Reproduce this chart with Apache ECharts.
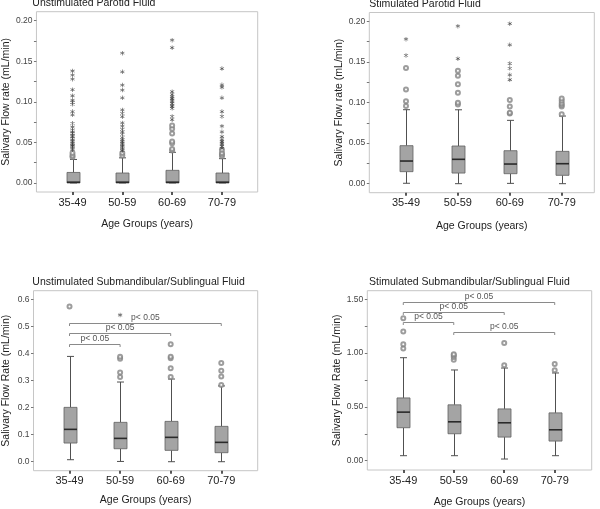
<!DOCTYPE html>
<html><head><meta charset="utf-8">
<script src="https://cdn.jsdelivr.net/npm/echarts@6/dist/echarts.min.js"></script>
<style>html,body{margin:0;padding:0;background:#fff}#c{width:600px;height:509px}</style>
</head><body><div id="c"></div>
<script>
// ---------- data ----------
const categories = ['35-49', '50-59', '60-69', '70-79'];
const panelTitles = ['Unstimulated Parotid Fluid', 'Stimulated Parotid Fluid',
  'Unstimulated Submandibular/Sublingual Fluid', 'Stimulated Submandibular/Sublingual Fluid'];
const yTitles = ['Salivary Flow rate (mL/min)', 'Salivary Flow rate (mL/min)',
  'Salivary Flow Rate (mL/min)', 'Salivary Flow Rate (mL/min)'];
const xTitle = 'Age Groups (years)';
const pLabel = 'p< 0.05';

// box = [min, Q1, median, Q3, max]
const p1Box = [[0, 0, 0.001, 0.013, 0.029], [0, 0, 0.001, 0.0123, 0.031], [0, 0, 0.001, 0.0156, 0.0378], [0, 0, 0.001, 0.0123, 0.030]];
const p1Mild = [[0.032, 0.034, 0.037], [0.034, 0.037], [0.040, 0.042, 0.049, 0.051, 0.061, 0.067, 0.071], [0.033, 0.035, 0.037, 0.041]];
const p1Extreme = [
  [0.041, 0.043, 0.045, 0.046, 0.047, 0.049, 0.051, 0.053, 0.055, 0.057, 0.059, 0.061, 0.063, 0.065, 0.069, 0.0735, 0.084, 0.088, 0.097, 0.0995, 0.102, 0.1075, 0.115, 0.128, 0.133, 0.138],
  [0.040, 0.042, 0.044, 0.045, 0.047, 0.049, 0.051, 0.053, 0.056, 0.060, 0.063, 0.066, 0.070, 0.074, 0.0817, 0.0858, 0.090, 0.105, 0.1145, 0.1207, 0.137, 0.160],
  [0.078, 0.082, 0.092, 0.094, 0.096, 0.098, 0.100, 0.102, 0.104, 0.106, 0.109, 0.1125, 0.1667, 0.176],
  [0.043, 0.045, 0.047, 0.049, 0.051, 0.053, 0.057, 0.063, 0.070, 0.082, 0.088, 0.105, 0.118, 0.121, 0.141]];
const p1Ticks = [0, 0.05, 0.10, 0.15, 0.20];
const p1TickLabels = ['0.00', '0.05', '0.10', '0.15', '0.20'];
const p1Minor = [0.025, 0.075, 0.125, 0.175];

const p2Box = [[0.0005, 0.0148, 0.0279, 0.0468, 0.0911], [0, 0.0131, 0.030, 0.0464, 0.091], [0.0004, 0.0123, 0.0242, 0.0406, 0.078], [0, 0.0103, 0.0246, 0.0398, 0.0833]];
const p2Mild = [[0.0956, 0.1014, 0.116, 0.1424], [0.0975, 0.0997, 0.112, 0.1223, 0.133, 0.139], [0.0865, 0.0875, 0.095, 0.103], [0.0854, 0.095, 0.097, 0.099, 0.102, 0.105]];
const p2Extreme = [[0.158, 0.178], [0.154, 0.194], [0.128, 0.134, 0.142, 0.148, 0.171, 0.197], []];
const p2Ticks = [0, 0.05, 0.10, 0.15, 0.20];
const p2TickLabels = ['0.00', '0.05', '0.10', '0.15', '0.20'];
const p2Minor = [0.025, 0.075, 0.125, 0.175];

const p3Box = [[0.0074, 0.069, 0.1195, 0.2008, 0.389], [0.001, 0.048, 0.0862, 0.1454, 0.2944], [0, 0.042, 0.09, 0.149, 0.3055], [0, 0.0333, 0.0715, 0.1306, 0.28]];
const p3Mild = [[0.573], [0.313, 0.330, 0.38, 0.388], [0.313, 0.345, 0.382, 0.388, 0.434], [0.283, 0.315, 0.336, 0.3647]];
const p3Extreme = [[], [0.542], [], []];
const p3Ticks = [0, 0.1, 0.2, 0.3, 0.4, 0.5, 0.6];
const p3TickLabels = ['0.0', '0.1', '0.2', '0.3', '0.4', '0.5', '0.6'];
const p3Minor = [];
const p3Brackets = [[1, 2, 0.435], [1, 3, 0.474], [1, 4, 0.5125]];

const p4Box = [[0.046, 0.306, 0.451, 0.583, 0.957], [0.046, 0.25, 0.361, 0.519, 0.843], [0.015, 0.219, 0.352, 0.481, 0.861], [0.046, 0.182, 0.287, 0.444, 0.815]];
const p4Mild = [[1.043, 1.083, 1.20, 1.324], [0.938, 0.963, 0.98, 0.99], [0.886, 1.093], [0.84, 0.898]];
const p4Extreme = [[], [], [], []];
const p4Ticks = [0, 0.5, 1.0, 1.5];
const p4TickLabels = ['0.00', '0.50', '1.00', '1.50'];
const p4Minor = [0.25, 0.75, 1.25];
const p4Brackets = [[1, 2, 1.29], [1, 3, 1.383], [1, 4, 1.472], [2, 4, 1.198]];

// ---------- layout ----------
const FONT = "'Liberation Sans', Arial, sans-serif";
const panels = [
  {box: p1Box, mild: p1Mild, ext: p1Extreme, ticks: p1Ticks, labels: p1TickLabels, minor: p1Minor, brackets: [],
   grid: {left: 30.7, top: 11.7, width: 227, height: 180.3}, x: [0.276, 4.718], y: [-0.0111, 0.2111],
   yGap: 20, xGap: 27, title: {left: 32.3, top: -2.3}},
  {box: p2Box, mild: p2Mild, ext: p2Extreme, ticks: p2Ticks, labels: p2TickLabels, minor: p2Minor, brackets: [],
   grid: {left: 369.3, top: 12.5, width: 225, height: 180.2}, x: [0.293, 4.628], y: [-0.0111, 0.2108],
   yGap: 24.5, xGap: 28, title: {left: 369.3, top: -1.8}},
  {box: p3Box, mild: p3Mild, ext: p3Extreme, ticks: p3Ticks, labels: p3TickLabels, minor: p3Minor, brackets: p3Brackets,
   grid: {left: 31.7, top: 290.7, width: 226, height: 180}, x: [0.288, 4.72], y: [-0.0332, 0.6318],
   yGap: 21.5, xGap: 24, title: {left: 32.3, top: 276.7}},
  {box: p4Box, mild: p4Mild, ext: p4Extreme, ticks: p4Ticks, labels: p4TickLabels, minor: p4Minor, brackets: p4Brackets,
   grid: {left: 367.3, top: 290.7, width: 224.4, height: 180}, x: [0.287, 4.733], y: [-0.087, 1.58],
   yGap: 22, xGap: 27, title: {left: 369, top: 276.7}}
];

const STAR = 'path://M4.3 0L5.7 0L5.7 10L4.3 10Z M0.97 1.9L9.73 6.95L9.03 8.1L0.27 3.05Z M0.27 6.95L9.03 1.9L9.73 3.05L0.97 8.1Z';

function renderBox(params, api) {
  const x = api.value(0);
  const pMin = api.coord([x, api.value(1)]);
  const pQ1 = api.coord([x, api.value(2)]);
  const pMed = api.coord([x, api.value(3)]);
  const pQ3 = api.coord([x, api.value(4)]);
  const pMax = api.coord([x, api.value(5)]);
  const cx = Math.round(pMin[0]) + 0.5;
  const hw = 6.5, cw = 3.5;
  const ws = {stroke: '#505050', lineWidth: 1};
  return {type: 'group', children: [
    {type: 'line', shape: {x1: cx, y1: pQ3[1], x2: cx, y2: pMax[1]}, style: ws},
    {type: 'line', shape: {x1: cx, y1: pQ1[1], x2: cx, y2: pMin[1]}, style: ws},
    {type: 'line', shape: {x1: cx - cw, y1: pMax[1], x2: cx + cw, y2: pMax[1]}, style: ws},
    {type: 'line', shape: {x1: cx - cw, y1: pMin[1], x2: cx + cw, y2: pMin[1]}, style: ws},
    {type: 'rect', shape: {x: cx - hw, y: pQ3[1], width: 2 * hw, height: Math.max(pQ1[1] - pQ3[1], 1)},
     style: {fill: '#a4a4a4', stroke: '#606060', lineWidth: 0.8}},
    {type: 'line', shape: {x1: cx - hw, y1: pMed[1], x2: cx + hw, y2: pMed[1]}, style: {stroke: '#2a2a2a', lineWidth: 1.6}}
  ]};
}

function renderBracket(params, api) {
  const a = api.coord([api.value(0), api.value(2)]);
  const b = api.coord([api.value(1), api.value(2)]);
  const y = Math.round(a[1]) + 0.5;
  return {type: 'group', children: [
    {type: 'polyline', shape: {points: [[a[0], y + 2.5], [a[0], y], [b[0], y], [b[0], y + 2.5]]},
     style: {stroke: '#8a8a8a', fill: null, lineWidth: 1}},
    {type: 'text', x: (a[0] + b[0]) / 2, y: y - 1.5,
     style: {text: pLabel, fontSize: 8.5, fontFamily: FONT, fill: '#555', align: 'center', verticalAlign: 'bottom'}}
  ]};
}

const option = {animation: false, backgroundColor: '#fff', title: [], grid: [], xAxis: [], yAxis: [], series: []};
panels.forEach((p, i) => {
  option.title.push({text: panelTitles[i], left: p.title.left, top: p.title.top, padding: 0,
    textStyle: {fontSize: 10.5, fontWeight: 'normal', color: '#222', fontFamily: FONT}});
  option.grid.push(Object.assign({show: true, borderColor: '#c6c6c6', borderWidth: 1, backgroundColor: 'transparent'}, p.grid));
  option.xAxis.push({gridIndex: i, type: 'value', min: p.x[0], max: p.x[1],
    axisLine: {show: false, onZero: false}, splitLine: {show: false},
    axisTick: {show: true, customValues: [1, 2, 3, 4], length: 3, lineStyle: {color: '#222', width: 1.5}},
    axisLabel: {customValues: [1, 2, 3, 4], formatter: v => categories[Math.round(v) - 1], fontSize: 11, color: '#222', margin: 5, fontFamily: FONT},
    name: xTitle, nameLocation: 'middle', nameGap: p.xGap,
    nameTextStyle: {fontSize: 10.5, color: '#222', fontFamily: FONT}});
  const tickLabel = v => {
    const k = p.ticks.findIndex(t => Math.abs(t - v) < 1e-9);
    return k >= 0 ? p.labels[k] : '';
  };
  option.yAxis.push({gridIndex: i, type: 'value', min: p.y[0], max: p.y[1],
    axisLine: {show: false, onZero: false}, splitLine: {show: false},
    axisTick: {show: true, customValues: p.ticks.concat(p.minor), length: 2.5, lineStyle: {color: '#777', width: 1}},
    axisLabel: {customValues: p.ticks, formatter: tickLabel, fontSize: 8.5, color: '#444', margin: 4, fontFamily: FONT},
    name: yTitles[i], nameLocation: 'middle', nameGap: p.yGap,
    nameTextStyle: {fontSize: 10.5, color: '#222', fontFamily: FONT}});
  option.series.push({type: 'custom', xAxisIndex: i, yAxisIndex: i, renderItem: renderBox,
    encode: {x: 0, y: [1, 2, 3, 4, 5]}, data: p.box.map((b, k) => [k + 1].concat(b)), z: 2});
  const mild = [], ext = [];
  p.mild.forEach((arr, k) => arr.forEach(v => mild.push([k + 1, v])));
  p.ext.forEach((arr, k) => arr.forEach(v => ext.push([k + 1, v])));
  option.series.push({type: 'scatter', xAxisIndex: i, yAxisIndex: i, data: mild, symbol: 'emptyCircle', symbolSize: 4,
    itemStyle: {color: '#858585', borderWidth: 0.7}, z: 3});
  option.series.push({type: 'scatter', xAxisIndex: i, yAxisIndex: i, data: ext, symbol: STAR, symbolSize: 4.5,
    itemStyle: {color: '#3a3a3a'}, z: 3});
  if (p.brackets.length) {
    option.series.push({type: 'custom', xAxisIndex: i, yAxisIndex: i, renderItem: renderBracket,
      encode: {x: [0, 1], y: 2}, data: p.brackets, z: 4});
  }
});

const chart = echarts.init(document.getElementById('c'), null, {renderer: 'canvas'});
chart.setOption(option);
</script>
</body></html>
